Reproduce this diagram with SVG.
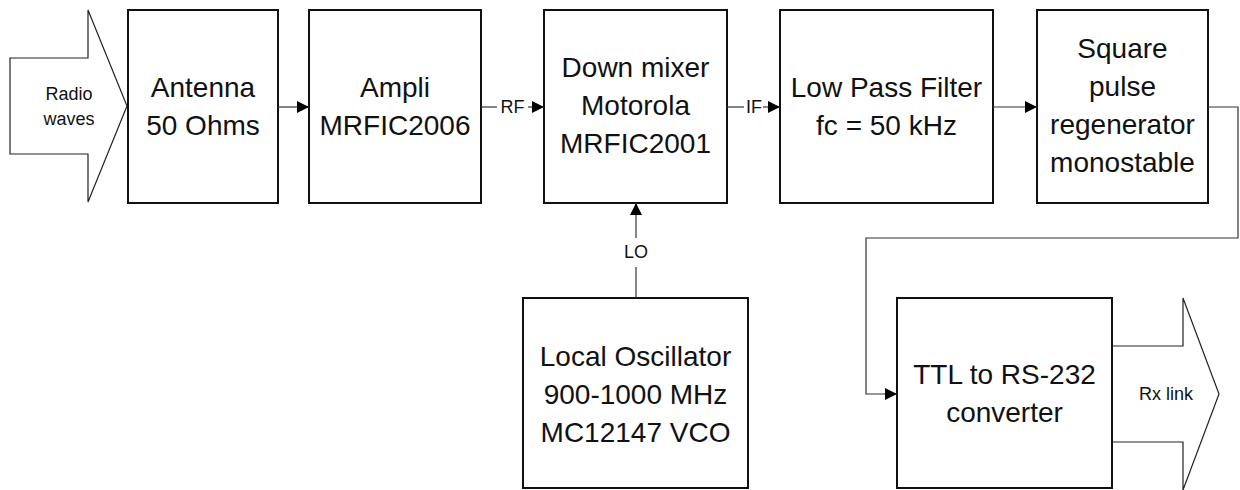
<svg xmlns="http://www.w3.org/2000/svg" width="1240" height="490" viewBox="0 0 1240 490">
<style>
.box{fill:#fff;stroke:#111;stroke-width:2}
.big{fill:none;stroke:#222;stroke-width:1.2}
.t{font-family:"Liberation Sans",Arial,sans-serif;font-size:28px;fill:#111;text-anchor:middle}
.s{font-family:"Liberation Sans",Arial,sans-serif;font-size:18px;fill:#111;text-anchor:middle}
.c{fill:none;stroke:#333;stroke-width:1.2}
</style>
<defs>
<marker id="ah" markerWidth="12" markerHeight="12" refX="12" refY="6" orient="auto" markerUnits="userSpaceOnUse">
<path d="M0,0 L12,6 L0,12 Z" fill="#000"/>
</marker>
</defs>
<rect width="1240" height="490" fill="#fff"/>
<g id="radio-waves">
<polygon class="big" fill="#fff" points="10,58 88,58 88,10 127,106 88,202 88,154 10,154"/>
<text class="s" x="69" y="100">Radio</text>
<text class="s" x="69" y="125">waves</text>
</g>
<g id="rx-link">
<polygon class="big" points="1100,346 1183,346 1183,298 1219,394 1183,490 1183,442 1100,442"/>
<text class="s" x="1166" y="400">Rx link</text>
</g>
<g id="antenna">
<rect class="box" x="128" y="10" width="150" height="193"/>
<text class="t" x="203" y="97">Antenna</text>
<text class="t" x="203" y="135">50 Ohms</text>
</g>
<g id="ampli">
<rect class="box" x="309" y="10" width="172" height="193"/>
<text class="t" x="395" y="97">Ampli</text>
<text class="t" x="395" y="135">MRFIC2006</text>
</g>
<g id="mixer">
<rect class="box" x="544" y="10" width="183" height="193"/>
<text class="t" x="635.5" y="77">Down mixer</text>
<text class="t" x="635.5" y="115">Motorola</text>
<text class="t" x="635.5" y="153">MRFIC2001</text>
</g>
<g id="lpf">
<rect class="box" x="780" y="10" width="213" height="193"/>
<text class="t" x="886.5" y="97">Low Pass Filter</text>
<text class="t" x="886.5" y="135">fc = 50 kHz</text>
</g>
<g id="regenerator">
<rect class="box" x="1037" y="10" width="171" height="193"/>
<text class="t" x="1122.5" y="58">Square</text>
<text class="t" x="1122.5" y="96">pulse</text>
<text class="t" x="1122.5" y="134">regenerator</text>
<text class="t" x="1122.5" y="172">monostable</text>
</g>
<g id="oscillator">
<rect class="box" x="523" y="298" width="225" height="190"/>
<text class="t" x="635.5" y="366">Local Oscillator</text>
<text class="t" x="635.5" y="404">900-1000 MHz</text>
<text class="t" x="635.5" y="442">MC12147 VCO</text>
</g>
<g id="converter">
<rect class="box" x="897" y="298" width="215" height="190"/>
<text class="t" x="1004.5" y="384">TTL to RS-232</text>
<text class="t" x="1004.5" y="422">converter</text>
</g>
<g id="connectors">
<path class="c" d="M278,107 H309" marker-end="url(#ah)"/>
<path class="c" d="M481,107 H497"/>
<path class="c" d="M528,107 H544" marker-end="url(#ah)"/>
<text class="s" x="512.5" y="113">RF</text>
<path class="c" d="M727,107 H744"/>
<path class="c" d="M763,107 H780" marker-end="url(#ah)"/>
<text class="s" x="754" y="113">IF</text>
<path class="c" d="M993,107 H1037" marker-end="url(#ah)"/>
<path class="c" d="M636,298 V267"/>
<path class="c" d="M636,238 V203" marker-end="url(#ah)"/>
<text class="s" x="636" y="258">LO</text>
<path class="c" d="M1208,107 H1238 V238 H866 V394 H897" marker-end="url(#ah)"/>
</g>
</svg>
